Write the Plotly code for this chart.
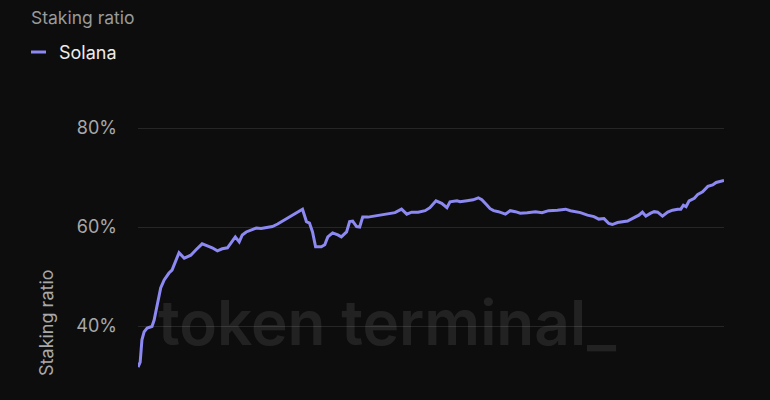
import pandas as pd
import plotly.graph_objects as go

# ---- data ----
series_name = "Solana"
chart_title = "Staking ratio"
start_date = "2020-07-01"
day_offsets = [0, 5, 9, 14, 21, 32, 37, 44, 52, 60, 71, 78, 87, 94, 106, 113, 121, 133, 147, 159,
               170, 182, 193, 205, 213, 223, 232, 239, 248, 259, 271, 282, 297, 308, 320, 331, 343, 354, 366, 377,
               386, 393, 400, 407, 420, 428, 435, 446, 458, 466, 478, 485, 492, 501, 508, 515, 527, 543, 558, 577,
               589, 604, 616, 627, 642, 658, 669, 683, 696, 708, 715, 731, 738, 754, 768, 780, 788, 800, 807, 815,
               826, 842, 853, 865, 876, 892, 911, 926, 941, 961, 980, 991, 1003, 1014, 1030, 1045, 1056, 1068, 1079, 1087,
               1099, 1110, 1122, 1137, 1148, 1156, 1164, 1175, 1183, 1191, 1202, 1214, 1225, 1237, 1244, 1250, 1256, 1263, 1275, 1283,
               1294, 1306, 1317, 1325, 1336, 1343]
staking_ratio = [31.7, 32.7, 37.2, 38.8, 39.6, 39.9, 41.2, 44.6, 47.7, 49.3, 50.7, 51.3, 53.3, 54.8, 53.7, 54.0, 54.3, 55.4, 56.6, 56.2,
                 55.8, 55.2, 55.6, 55.8, 56.8, 58.0, 57.0, 58.4, 59.0, 59.4, 59.8, 59.7, 59.9, 60.1, 60.6, 61.2, 61.8, 62.3, 63.1, 63.6,
                 61.1, 60.8, 59.0, 56.0, 56.0, 56.4, 58.0, 58.8, 58.4, 58.0, 59.0, 61.1, 61.2, 60.1, 60.0, 62.0, 62.0, 62.2, 62.4, 62.6,
                 62.9, 63.6, 62.6, 63.0, 63.0, 63.3, 63.9, 65.3, 64.8, 63.9, 65.1, 65.3, 65.1, 65.3, 65.5, 65.9, 65.5, 64.4, 63.7, 63.3,
                 63.1, 62.6, 63.3, 63.1, 62.8, 62.9, 63.1, 62.9, 63.3, 63.4, 63.6, 63.3, 63.1, 62.9, 62.4, 62.1, 61.6, 61.7, 60.7, 60.5,
                 60.9, 61.1, 61.2, 61.9, 62.4, 63.0, 62.2, 62.8, 63.1, 63.0, 62.2, 63.0, 63.4, 63.6, 63.6, 64.4, 64.1, 65.3, 65.8, 66.6,
                 67.1, 68.2, 68.5, 69.0, 69.3, 69.4]
y_ticks = [40, 60, 80]
y_tick_labels = ["40%", "60%", "80%"]
y_range = [25.05, 85.66]
watermark = "token terminal_"

dates = pd.Timestamp(start_date) + pd.to_timedelta(day_offsets, unit="D")

LINE = "#8d89f2"
BG = "#0d0d0e"
FONT = "Inter"

fig = go.Figure()
fig.add_trace(go.Scatter(x=dates, y=staking_ratio, mode="lines", name=series_name,
                         line=dict(color=LINE, width=3), showlegend=False))

fig.update_layout(
    width=770, height=400,
    paper_bgcolor=BG, plot_bgcolor=BG,
    margin=dict(l=138, r=46, t=100, b=0),
    font=dict(family=FONT, color="#a8a8a8", size=18),
    title=dict(text=chart_title, x=31/770, xref="container", xanchor="left",
               y=1-18/400, yref="container", yanchor="middle",
               font=dict(family=FONT, size=17.5, color="#9a9a9a")),
    xaxis=dict(showgrid=False, showticklabels=False, zeroline=False, showline=False, ticks=""),
    yaxis=dict(range=y_range, tickvals=y_ticks, ticktext=y_tick_labels, showgrid=True,
               gridcolor="#262626", gridwidth=1, zeroline=False, showline=False,
               ticks="", ticklabelstandoff=20,
               tickfont=dict(family=FONT, size=18, color="#a8a8a8")),
    showlegend=False,
)

# legend (manual)
fig.add_shape(type="line", xref="paper", yref="paper",
              x0=(31-138)/586, x1=(46-138)/586, y0=(400-52)/300, y1=(400-52)/300,
              line=dict(color=LINE, width=3))
fig.add_annotation(text=series_name, xref="paper", yref="paper",
                   x=(57-138)/586, y=(400-52)/300, xanchor="left", yanchor="middle",
                   showarrow=False, font=dict(family=FONT, size=18, color="#ececec"))

# y axis title
fig.add_annotation(text=chart_title, xref="paper", yref="paper",
                   x=(46-138)/586, y=(400-323)/300, textangle=-90,
                   xanchor="center", yanchor="middle", showarrow=False,
                   font=dict(family=FONT, size=18, color="#a8a8a8"))

# watermark
fig.add_annotation(text=watermark, xref="paper", yref="paper",
                   x=(387-138)/586, y=(400-322)/300, xanchor="center", yanchor="middle",
                   showarrow=False,
                   font=dict(family=FONT, size=62, color="rgba(255,255,255,0.09)", weight=600))

fig.write_html("out.html", config={"displayModeBar": False},
               post_script="document.body.style.margin='0';")
